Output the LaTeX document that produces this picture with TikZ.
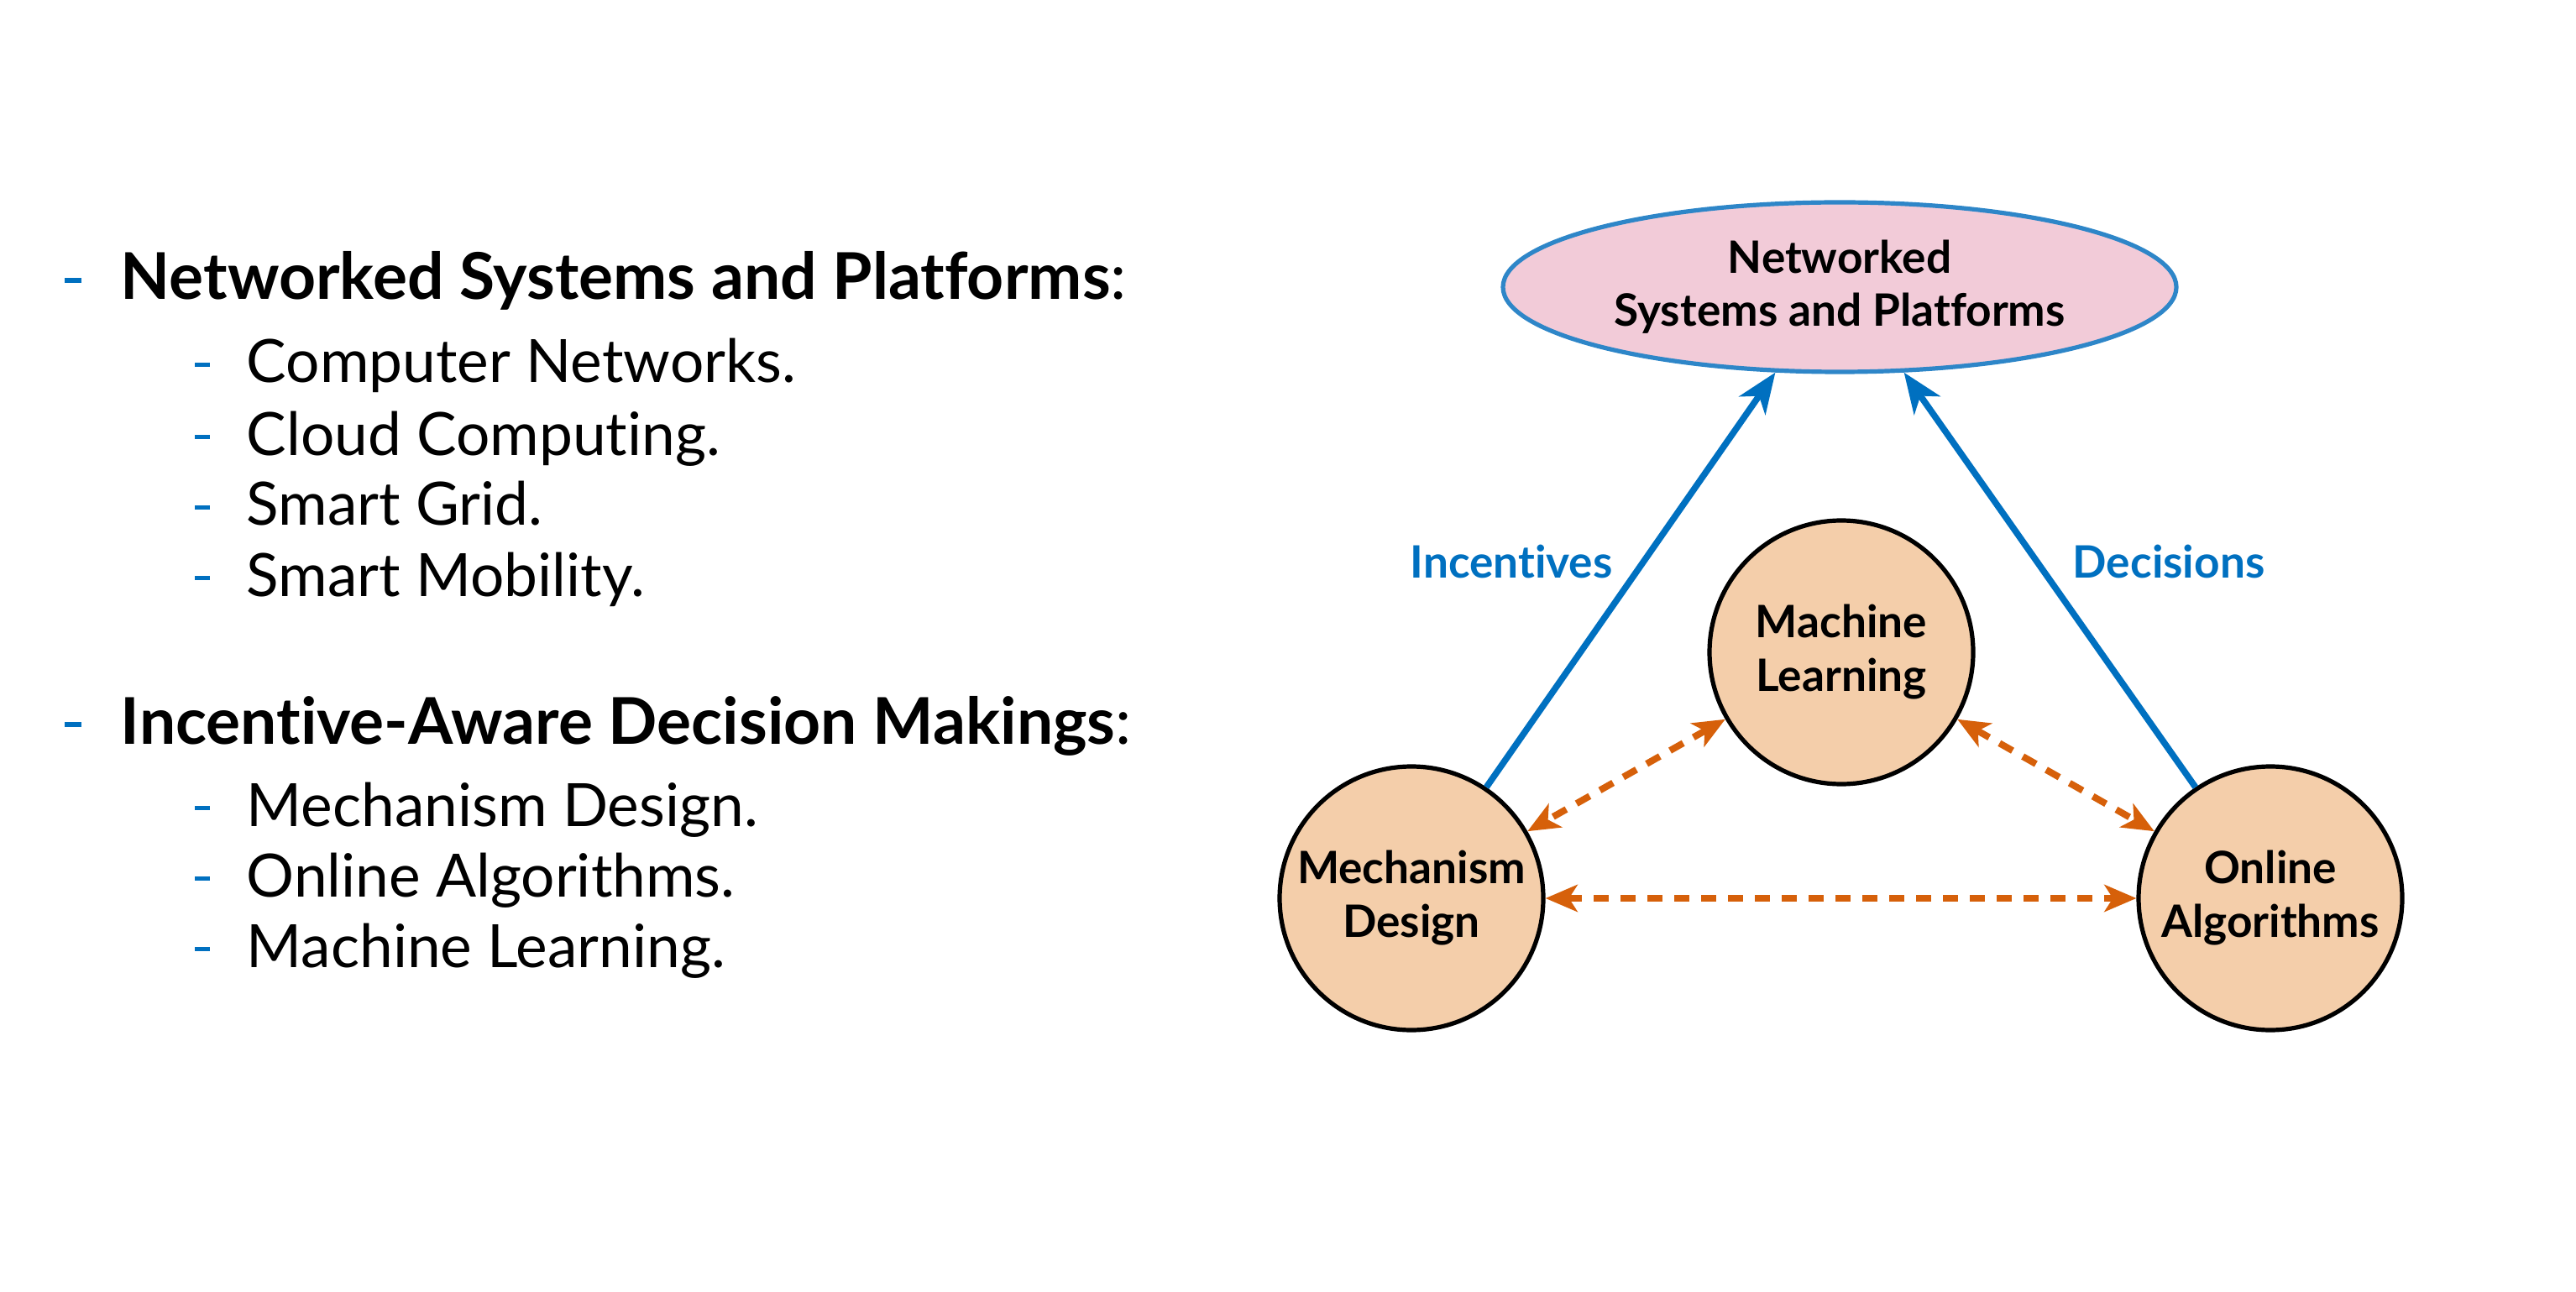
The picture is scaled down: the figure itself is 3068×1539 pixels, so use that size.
\documentclass[tikz,border=0pt]{standalone}
\usepackage{fontspec}
\setmainfont{Lato}[Ligatures=NoCommon]
\usetikzlibrary{shapes.geometric,arrows.meta}
\definecolor{arrblue}{RGB}{0,112,192}
\definecolor{ellblue}{RGB}{46,134,200}
\definecolor{ellpink}{RGB}{242,203,216}
\definecolor{peach}{RGB}{244,206,170}
\definecolor{orng}{RGB}{214,96,10}
\begin{document}
\begin{tikzpicture}[x=0.25pt,y=-0.25pt,
  topic/.style={circle,draw=black,line width=1.3pt,fill=peach,minimum size=78.5pt,inner sep=0pt,
    align=center,font=\fontsize{13.3}{16}\selectfont\bfseries},
  platform/.style={ellipse,draw=ellblue,line width=1.3pt,fill=ellpink,minimum width=200.5pt,minimum height=50.5pt,
    inner sep=0pt,align=center,font=\fontsize{13.3}{15.8}\selectfont\bfseries},
  flow/.style={draw=arrblue,line width=1.9pt,-{Stealth[length=12pt,width=9.5pt,inset=3.5pt]}},
  link/.style={draw=orng,line width=2pt,dash pattern=on 4.5pt off 3.5pt,
    {Stealth[length=9.5pt,width=8pt,inset=2.5pt]}-{Stealth[length=9.5pt,width=8pt,inset=2.5pt]}},
  flowlabel/.style={text=arrblue,font=\fontsize{13.3}{16}\selectfont\bfseries},
  head/.style={anchor=base west,inner sep=0pt,font=\fontsize{19.2}{23}\selectfont},
  item/.style={anchor=base west,inner sep=0pt,font=\fontsize{17.8}{21}\selectfont},
  bullet/.style={fill=arrblue}
]
\useasboundingbox (0,0) rectangle (3068,1539);

% left list
\node[head] (h1) at (143,357) {\textbf{Networked Systems and Platforms}:};
\fill[bullet] (77,331) rectangle (97,337);
\node[item] (i1) at (293,456) {Computer Networks.};
\node[item] (i2) at (293,542) {Cloud Computing.};
\node[item] (i3) at (293,626) {Smart Grid.};
\node[item] (i4) at (293,710) {Smart Mobility.};
\foreach \yy in {456,542,626,710} {\fill[bullet] (232,\yy-24) rectangle (250,\yy-19);}

\node[head] (h2) at (143,886) {\textbf{Incentive-Aware Decision Makings}:};
\fill[bullet] (77,860) rectangle (97,866);
\node[item] (j1) at (293,984) {Mechanism Design.};
\node[item] (j2) at (293,1068) {Online Algorithms.};
\node[item] (j3) at (293,1152) {Machine Learning.};
\foreach \yy in {984,1068,1152} {\fill[bullet] (232,\yy-24) rectangle (250,\yy-19);}

% diagram
\node[platform] (nsp) at (2191,342) {Networked\\Systems and Platforms};
\node[topic] (ml) at (2193,777) {Machine\\Learning};
\node[topic] (md) at (1681,1070) {Mechanism\\Design};
\node[topic] (oa) at (2704,1070) {Online\\Algorithms};

\draw[flow] (md.56) -- (nsp.233);
\draw[flow] (oa.124) -- (nsp.307);

\node[flowlabel] (inc) at (1800,669) {Incentives};
\node[flowlabel] (dec) at (2583,669) {Decisions};

\draw[link] (ml.210) -- (md.30);
\draw[link] (ml.330) -- (oa.150);
\draw[link] (md.east) -- (oa.west);
\end{tikzpicture}
\end{document}
